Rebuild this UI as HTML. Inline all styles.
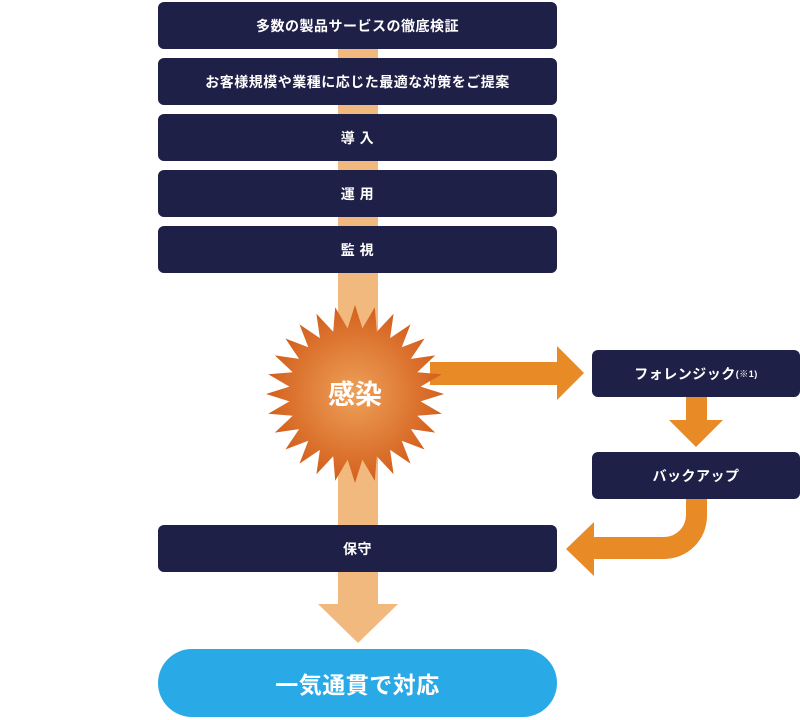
<!DOCTYPE html>
<html><head><meta charset="utf-8"><style>
body{margin:0;width:800px;height:720px;background:#fff;position:relative;overflow:hidden;font-family:"Liberation Sans","Noto Sans CJK JP",sans-serif;}
.b{position:absolute;background:#1f2048;color:#fff;border-radius:6px;display:flex;align-items:center;justify-content:center;font-weight:bold;font-size:14px;letter-spacing:0.5px;}
svg{position:absolute;left:0;top:0}
</style></head><body>
<svg width="800" height="720">
<defs><radialGradient id="g" cx="50%" cy="50%" r="50%"><stop offset="0" stop-color="#eea15a"/><stop offset="1" stop-color="#d35f1c"/></radialGradient></defs>
<rect x="338" y="40" width="40" height="566" fill="#f2b97e"/>
<polygon points="318,604 398,604 358,643" fill="#f2b97e"/>
<polygon points="430,362 557,362 557,346 584,373 557,400 557,385 430,385" fill="#e88a25"/>
<polygon points="686,397 707,397 707,420 723,420 696,447 669,420 686,420" fill="#e88a25"/>
<path d="M686,499 V515 A22,22 0 0 1 664,537 H594 V522 L566,549 L594,576 V559 H664 A43,43 0 0 0 707,516 V499 Z" fill="#e88a25"/>
<polygon id="burst" fill="url(#g)"/>
<text x="355" y="404" font-size="27" font-weight="bold" fill="#fff" text-anchor="middle" font-family="Liberation Sans, Noto Sans CJK JP, sans-serif">感染</text>
</svg>
<div class="b" style="left:158px;top:2px;width:399px;height:47px">多数の製品サービスの徹底検証</div>
<div class="b" style="left:158px;top:58px;width:399px;height:47px">お客様規模や業種に応じた最適な対策をご提案</div>
<div class="b" style="left:158px;top:114px;width:399px;height:47px">導 入</div>
<div class="b" style="left:158px;top:170px;width:399px;height:47px">運 用</div>
<div class="b" style="left:158px;top:226px;width:399px;height:47px">監 視</div>
<div class="b" style="left:592px;top:350px;width:208px;height:47px">フォレンジック<span style="font-size:9px">(※1)</span></div>
<div class="b" style="left:592px;top:452px;width:208px;height:47px">バックアップ</div>
<div class="b" style="left:158px;top:525px;width:399px;height:47px">保守</div>
<div class="b" style="left:158px;top:649px;width:399px;height:68px;border-radius:34px;background:#29a9e6;font-size:23px;">一気通貫で対応</div>
<script>
var p=[],n=28,cx=355,cy=394;
for(var i=0;i<n*2;i++){var r=i%2?66:89,a=Math.PI*i/n-Math.PI/2;p.push((cx+r*Math.cos(a)).toFixed(1)+","+(cy+r*Math.sin(a)).toFixed(1));}
document.getElementById("burst").setAttribute("points",p.join(" "));
</script>
</body></html>
